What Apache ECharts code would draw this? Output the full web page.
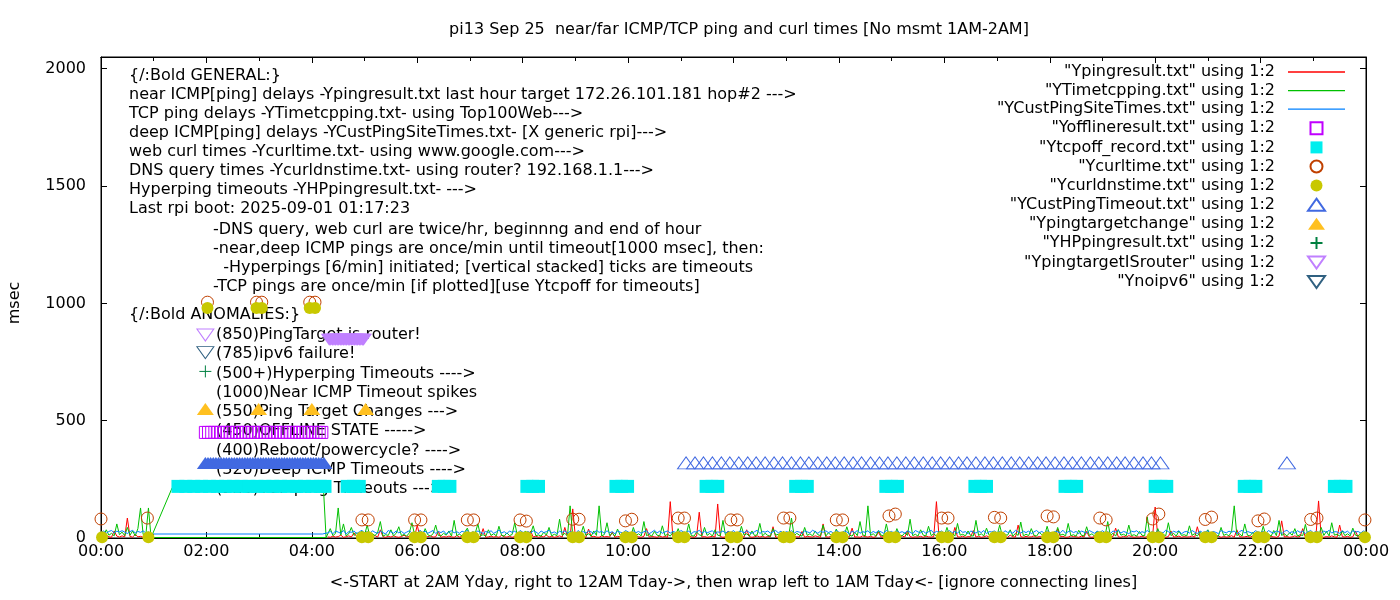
<!DOCTYPE html>
<html><head><meta charset="utf-8">
<script src="https://cdn.jsdelivr.net/npm/echarts@6/dist/echarts.min.js"></script>
<style>html,body{margin:0;padding:0;background:#fff}#c{width:1400px;height:600px}</style>
</head><body><div id="c"></div>
<script>
const FONT = 'DejaVu Sans';
const titleText = 'pi13 Sep 25  near/far ICMP/TCP ping and curl times [No msmt 1AM-2AM]';
const xAxisTitle = '<-START at 2AM Yday, right to 12AM Tday->, then wrap left to 1AM Tday<- [ignore connecting lines]';
const yAxisTitle = 'msec';

const seriesNames = [
  '"Ypingresult.txt" using 1:2', '"YTimetcpping.txt" using 1:2', '"YCustPingSiteTimes.txt" using 1:2',
  '"Yofflineresult.txt" using 1:2', '"Ytcpoff_record.txt" using 1:2', '"Ycurltime.txt" using 1:2',
  '"Ycurldnstime.txt" using 1:2', '"YCustPingTimeout.txt" using 1:2', '"Ypingtargetchange" using 1:2',
  '"YHPpingresult.txt" using 1:2', '"YpingtargetISrouter" using 1:2', '"Ynoipv6" using 1:2'
];

const generalLines = [
  '{/:Bold GENERAL:}',
  'near ICMP[ping] delays -Ypingresult.txt last hour target 172.26.101.181 hop#2 --->',
  'TCP ping delays -YTimetcpping.txt- using Top100Web--->',
  'deep ICMP[ping] delays -YCustPingSiteTimes.txt- [X generic rpi]--->',
  'web curl times -Ycurltime.txt- using www.google.com--->',
  'DNS query times -Ycurldnstime.txt- using router? 192.168.1.1--->',
  'Hyperping timeouts -YHPpingresult.txt- --->',
  'Last rpi boot: 2025-09-01 01:17:23'
];
const noteLines = [
  '-DNS query, web curl are twice/hr, beginnng and end of hour',
  '-near,deep ICMP pings are once/min until timeout[1000 msec], then:',
  '  -Hyperpings [6/min] initiated; [vertical stacked] ticks are timeouts',
  '-TCP pings are once/min [if plotted][use Ytcpoff for timeouts]'
];
const anomalyHeader = '{/:Bold ANOMALIES:}';
const anomalyLines = [
  '(850)PingTarget is router!', '(785)ipv6 failure!', '(500+)Hyperping Timeouts ---->',
  '(1000)Near ICMP Timeout spikes', '(550)Ping Target Changes --->', '(450)OFFLINE STATE ----->',
  '(400)Reboot/powercycle? ---->', '(320)Deep ICMP Timeouts ---->', '(220)TCP ping Timeouts --->'
];

// sampling grid (hours) for the per-minute line files, shown here every 3 min
const SAMPLE_STEP = 0.05;
const EARLY_START = 0.0;   // 00:00 .. 00:54
const LATE_START = 4.3;    // 04:18 .. 24:00

// Ypingresult (near ICMP) msec
const redEarly = [6, 4, 12, 5, 3, 30, 8, 4, 9, 5, 85, 6, 4, 15, 5, 7, 3, 8, 4];
const redLate = [
  5, 3, 8, 4, 6, 12, 3, 5, 9, 4, 22, 6, 3, 7,
  4, 8, 3, 6, 10, 4, 35, 5, 3, 7, 4, 9, 5, 3, 6, 12, 4, 8, 3, 5,
  55, 4, 7, 3, 6, 9, 4, 5, 28, 3, 6, 4, 8, 5, 3, 10, 4, 6, 3, 7,
  5, 3, 9, 4, 6, 40, 3, 5, 8, 4, 6, 3, 11, 5, 4, 7, 3, 6, 9, 4,
  6, 3, 5, 30, 4, 8, 3, 6, 5, 12, 4, 7, 3, 5, 9, 4, 45, 6, 3, 124,
  5, 8, 4, 6, 3, 38, 5, 7, 4, 3, 9, 5, 6, 4, 25, 3, 7, 5, 4, 8,
  3, 6, 4, 9, 5, 3, 7, 40, 4, 6, 5, 3, 8, 4, 6, 3, 155, 5, 4, 7,
  3, 6, 4, 9, 5, 3, 8, 110, 4, 6, 3, 5, 7, 4, 145, 6, 3, 5, 30, 4,
  6, 3, 8, 5, 4, 35, 6, 3, 5, 9, 4, 7, 3, 6, 5, 48, 4, 3, 7, 5,
  4, 8, 3, 6, 5, 4, 28, 3, 7, 5, 4, 9, 6, 3, 60, 5, 4, 7, 3, 6,
  5, 4, 8, 3, 6, 42, 4, 5, 3, 9, 6, 4, 7, 3, 5, 25, 4, 6, 3, 8,
  4, 6, 3, 5, 9, 4, 30, 6, 3, 5, 4, 7, 3, 8, 5, 4, 6, 155, 3, 5,
  7, 4, 6, 3, 45, 5, 4, 8, 3, 6, 5, 32, 4, 7, 3, 5, 9, 4, 6, 3,
  5, 8, 4, 6, 3, 12, 5, 4, 55, 6, 3, 7, 4, 5, 9, 3, 6, 4, 8, 5,
  3, 6, 4, 38, 5, 7, 3, 4, 9, 6, 5, 3, 8, 4, 28, 5, 3, 6, 4, 7,
  5, 3, 8, 4, 6, 42, 5, 3, 7, 4, 10, 6, 3, 5, 4, 8, 3, 6, 5, 4,
  132, 5, 4, 7, 3, 6, 30, 4, 5, 8, 3, 6, 4, 5, 9, 3, 48, 5, 4, 6,
  3, 7, 5, 4, 8, 3, 6, 4, 5, 10, 3, 35, 6, 4, 5, 7, 3, 9, 4, 6,
  5, 3, 12, 4, 6, 5, 3, 8, 73, 4, 6, 3, 5, 9, 4, 7, 40, 3, 5, 6,
  4, 8, 158, 5, 3, 6, 4, 9, 5, 3, 55, 6, 4, 7, 3, 5, 30, 4, 6, 3,
  7
];
// YTimetcpping (TCP ping) msec
const greenEarly = [15, 10, 35, 12, 20, 9, 60, 14, 25, 10, 45, 12, 30, 9, 40, 128, 15, 11, 128];
const greenGapTimes = [0.95, 1.35, 4.22, 4.27];
const greenGapValues = [2, 214, 214, 2];
const greenBaseTimes = [0.95, 4.27];
const greenBaseValues = [2, 2];
const greenLate = [
  8, 40, 10, 20, 128, 12, 60, 9, 18, 45, 11, 22, 8, 30,
  12, 55, 9, 18, 10, 25, 70, 8, 14, 11, 35, 9, 20, 48, 10, 15, 8, 22, 65, 12,
  10, 28, 9, 40, 14, 8, 18, 55, 11, 9, 20, 12, 30, 8, 75, 10, 16, 9, 25, 42,
  12, 9, 20, 60, 10, 14, 8, 35, 11, 18, 9, 50, 12, 8, 22, 10, 15, 65, 9, 14,
  11, 30, 9, 18, 52, 10, 13, 8, 25, 12, 45, 9, 16, 10, 80, 11, 20, 8, 137, 12,
  9, 22, 14, 50, 10, 18, 8, 30, 11, 137, 9, 15, 65, 10, 20, 8, 38, 12, 9, 25,
  14, 8, 45, 11, 18, 9, 70, 10, 15, 8, 28, 12, 9, 52, 10, 16, 8, 24, 11, 40,
  9, 18, 12, 60, 10, 8, 25, 14, 9, 45, 11, 20, 8, 35, 12, 9, 75, 10, 16, 8,
  22, 11, 9, 50, 12, 18, 8, 30, 10, 14, 62, 9, 20, 11, 8, 40, 12, 16, 9, 28,
  10, 14, 85, 9, 20, 12, 8, 45, 11, 18, 9, 30, 14, 10, 55, 8, 22, 12, 9, 38,
  11, 16, 9, 48, 12, 8, 25, 10, 70, 14, 9, 137, 11, 18, 8, 32, 12, 9, 60, 10,
  15, 8, 40, 12, 9, 22, 11, 80, 10, 16, 8, 35, 12, 9, 50, 10, 18, 8, 28, 14,
  9, 45, 11, 20, 8, 62, 12, 16, 9, 30, 10, 8, 75, 11, 18, 9, 42, 12, 8, 24,
  10, 55, 9, 14, 12, 35, 8, 20, 11, 68, 9, 16, 10, 40, 12, 8, 25, 14, 9, 50,
  11, 20, 8, 45, 12, 16, 9, 62, 10, 14, 8, 33, 12, 9, 48, 11, 18, 8, 28, 10,
  14, 9, 70, 11, 20, 8, 36, 12, 16, 9, 55, 10, 14, 8, 28, 12, 9, 90, 11, 18,
  8, 40, 12, 16, 9, 65, 10, 20, 8, 30, 11, 14, 9, 52, 12, 18, 8, 25, 10, 14,
  35, 9, 20, 12, 8, 45, 11, 16, 9, 28, 137, 10, 18, 8, 60, 12, 9, 24, 11, 14,
  9, 50, 12, 16, 8, 32, 10, 75, 11, 18, 9, 22, 12, 40, 8, 14, 10, 58, 9, 16,
  12, 20, 8, 45, 11, 28, 9, 65, 12, 16, 8, 30, 10, 18, 9, 42, 12, 8, 22, 14,
  10
];
// YCustPingSiteTimes (deep ICMP) msec
const blueEarly = [24, 30, 20, 28, 32, 22, 29, 26, 31, 25, 19, 27, 33, 21, 28, 24, 30, 22, 26];
const blueGapTimes = [0.95, 4.2];
const blueGapValues = [17, 17];
const blueLate = [
  22, 28, 18, 30, 25, 20, 32, 17, 27, 24, 30, 19, 26, 33,
  21, 28, 18, 31, 24, 20, 29, 23, 17, 32, 26, 20, 30, 22, 28, 19, 25, 31, 21, 27,
  18, 33, 24, 29, 20, 26, 32, 19, 28, 23, 30, 17, 26, 31, 22, 27, 20, 29, 24, 33,
  18, 27, 22, 30, 25, 19, 28, 23, 31, 20, 26, 34, 21, 27, 18, 30, 24, 29, 19, 32,
  25, 22, 28, 20, 31, 26, 18, 30, 23, 27, 33, 21, 26, 19, 29, 24, 31, 20, 28, 25,
  17, 32, 23, 27, 21, 30, 26, 19, 33, 24, 28, 20, 31, 22, 27, 18, 29, 25, 21, 32,
  26, 19, 30, 23, 28, 20, 27, 31, 18, 25, 33, 22, 29, 20, 26, 30, 21, 28, 24, 19,
  32, 26, 23, 30, 18, 27, 25, 33, 20, 29, 22, 27, 31, 19, 26, 24, 30, 21, 28, 23,
  32, 18, 26, 29, 22, 31, 24, 20, 27, 33, 19, 28, 25, 30, 21, 26, 32, 22, 29, 18,
  27, 24, 31, 20, 28, 25, 19, 30, 26, 22, 33, 27, 20, 29, 24, 31, 23, 28, 19, 32,
  25, 21, 30, 26, 18, 29, 23, 32, 20, 27, 24, 31, 19, 28, 22, 30, 26, 20, 33, 24,
  28, 19, 31, 23, 27, 21, 30, 25, 18, 32, 26, 22, 29, 20, 27, 33, 21, 28, 24, 30,
  19, 26, 31, 22, 28, 20, 33, 24, 27, 18, 30, 25, 21, 29, 23, 32, 19, 27, 26, 30,
  22, 28, 19, 31, 24, 27, 20, 33, 25, 21, 29, 23, 30, 18, 26, 32, 22, 28, 20, 31,
  24, 19, 29, 26, 22, 33, 20, 27, 31, 23, 28, 18, 30, 25, 21, 32, 26, 20, 29, 24,
  31, 22, 27, 19, 30, 25, 33, 21, 28, 24, 18, 29, 26, 31, 20, 27, 23, 32, 22, 28,
  19, 30, 25, 22, 33, 27, 20, 29, 24, 31, 18, 26, 28, 21, 32, 25, 19, 30, 23, 27,
  31, 20, 28, 24, 19, 32, 26, 22, 29, 25, 30, 18, 27, 33, 21, 28, 24, 20, 31, 26,
  23, 29, 19, 32, 25, 21, 30, 26, 18, 28, 33, 22, 27, 20, 31, 24, 29, 19, 26, 32,
  22, 28, 25, 19, 30, 24, 33, 21, 27, 26, 20, 31, 23, 29, 18, 32, 25, 28, 21, 30,
  26
];

// Yofflineresult (450)
const offlineTimes = [1.98, 2.04, 2.10, 2.16, 2.22, 2.28, 2.34, 2.40, 2.46, 2.52, 2.58, 2.64, 2.70, 2.76, 2.82, 2.88, 2.94, 3.00, 3.06, 3.12, 3.18, 3.24, 3.30, 3.36, 3.42, 3.48, 3.54, 3.60, 3.66, 3.72, 3.78, 3.84, 3.90, 3.96, 4.02, 4.08, 4.14, 4.19];
const offlineValue = 450;
// Ytcpoff_record (220)
const tcpoffTimes = [
  1.46, 1.61, 1.76, 1.91, 2.06, 2.21, 2.36, 2.51, 2.66, 2.81, 2.96, 3.11, 3.26, 3.41, 3.56, 3.71, 3.86, 4.01, 4.16, 4.25,
  4.67, 4.79, 4.90, 6.40, 6.51, 6.62, 8.08, 8.19, 8.30, 9.77, 9.88, 9.99, 11.48, 11.59, 11.70,
  13.18, 13.29, 13.40, 14.89, 15.00, 15.11, 16.58, 16.69, 16.80, 18.29, 18.40, 18.51,
  20.00, 20.11, 20.22, 21.69, 21.80, 21.91, 23.40, 23.51, 23.62
];
const tcpoffValue = 220;
// Ycurltime
const curlTimes = [0.00, 0.88, 2.02, 2.95, 3.05, 3.96, 4.06, 4.95, 5.07, 5.95, 6.07, 6.95, 7.07, 7.95, 8.07, 8.95, 9.07, 9.95, 10.07, 10.95, 11.07, 11.95, 12.07, 12.95, 13.07, 13.95, 14.07, 14.95, 15.07, 15.95, 16.07, 16.95, 17.07, 17.95, 18.07, 18.95, 19.07, 19.95, 20.07, 20.95, 21.07, 21.95, 22.07, 22.95, 23.07, 23.98];
const curlValues = [81, 85, 1005, 1005, 1005, 1005, 1005, 77, 77, 77, 77, 77, 77, 77, 72, 80, 80, 73, 80, 85, 85, 77, 77, 85, 85, 77, 77, 94, 102, 85, 85, 88, 85, 94, 90, 85, 77, 81, 102, 79, 89, 73, 81, 79, 85, 77];
// Ycurldnstime
const dnsTimes = [0.02, 0.90, 2.02, 2.95, 3.05, 3.96, 4.06, 4.95, 5.07, 5.95, 6.07, 6.95, 7.07, 7.95, 8.07, 8.95, 9.07, 9.95, 10.07, 10.95, 11.07, 11.95, 12.07, 12.95, 13.07, 13.95, 14.07, 14.95, 15.07, 15.95, 16.07, 16.95, 17.07, 17.95, 18.07, 18.95, 19.07, 19.95, 20.07, 20.95, 21.07, 21.95, 22.07, 22.95, 23.07, 23.98];
const dnsValues = [3, 3, 980, 980, 980, 980, 980, 3, 3, 3, 3, 3, 3, 3, 3, 3, 3, 3, 3, 3, 3, 3, 3, 3, 3, 3, 3, 3, 3, 3, 3, 3, 3, 3, 3, 3, 3, 3, 3, 3, 3, 3, 3, 3, 3, 3];
// YCustPingTimeout (320)
const custTimeoutTimes = [
  11.10, 11.27, 11.43, 11.60, 11.77, 11.93, 12.10, 12.27, 12.43, 12.60, 12.77, 12.93,
  13.10, 13.27, 13.43, 13.60, 13.77, 13.93, 14.10, 14.27, 14.43, 14.60, 14.77, 14.93,
  15.10, 15.27, 15.43, 15.60, 15.77, 15.93, 16.10, 16.27, 16.43, 16.60, 16.77, 16.93,
  17.10, 17.27, 17.43, 17.60, 17.77, 17.93, 18.10, 18.27, 18.43, 18.60, 18.77, 18.93,
  19.10, 19.27, 19.43, 19.60, 19.77, 19.93, 20.10, 22.50
];
const custTimeoutDenseTimes = [1.98, 2.03, 2.08, 2.13, 2.18, 2.23, 2.28, 2.33, 2.38, 2.43, 2.48, 2.53, 2.58, 2.63, 2.68, 2.73, 2.78, 2.83, 2.88, 2.93, 2.98, 3.03, 3.08, 3.13, 3.18, 3.23, 3.28, 3.33, 3.38, 3.43, 3.48, 3.53, 3.58, 3.63, 3.68, 3.73, 3.78, 3.83, 3.88, 3.93, 3.98, 4.03, 4.08, 4.13, 4.18, 4.23];
const custTimeoutValue = 320;
// Ypingtargetchange (550)
const targetChangeTimes = [1.98, 2.99, 4.00, 5.02];
const targetChangeValue = 550;
// YHPpingresult
const hpTimes = [1.98];
const hpValues = [710];
// YpingtargetISrouter
const routerTimes = [1.98];
const routerValues = [865];
const routerDenseTimes = [4.33, 4.36, 4.39, 4.42, 4.45, 4.48, 4.51, 4.54, 4.57, 4.60, 4.63, 4.66, 4.69, 4.72, 4.75, 4.78, 4.81, 4.84, 4.87, 4.90, 4.93, 4.96, 4.98];
const routerDenseValue = 845;
// Ynoipv6
const noipv6Times = [1.98];
const noipv6Values = [790];

// ---------- build ----------
const C = {
  red: '#ff0000', green: '#00c000', blue: '#0080ff', magenta: '#c000ff', cyan: '#00eeee',
  brown: '#c04000', olive: '#c8c800', royal: '#4169e1', gold: '#ffc020', dgreen: '#008040',
  lpurple: '#c080ff', slate: '#306080'
};
const pts = (times, values) => times.map((t, i) => [t, Array.isArray(values) ? values[i] : values]);
const sampled = (start, values) => values.map((v, i) => [Math.round((start + i * SAMPLE_STEP) * 1000) / 1000, v]);
const BREAK = (t) => [t, '-'];
const UP = 'path://M8.5,0L17,12L0,12Z';
const DOWN = 'path://M0,0L17,0L8.5,12Z';
const PLUS = 'path://M5,0L5,10M0,5L10,5';
const SQUARE = 'path://M0,0L10,0L10,10L0,10Z';
const LINE_ICON = 'path://M0,0L57,0L57,1.3L0,1.3Z';

function lineSeries(name, color, data) {
  return { name, type: 'line', z: 1, data, symbol: 'none', showSymbol: false, connectNulls: false,
    lineStyle: { color, width: 1, opacity: 1 }, itemStyle: { color }, animation: false, silent: true };
}
function scatter(name, symbol, size, color, open, data) {
  return { name, type: 'scatter', z: 3, data, symbol, symbolSize: size, animation: false, silent: true,
    itemStyle: open ? { color: 'none', borderColor: color, borderWidth: 1, opacity: 1 } : { color, opacity: 1 } };
}

const series = [
  lineSeries(seriesNames[0], C.red, [...sampled(EARLY_START, redEarly), BREAK(2), ...sampled(LATE_START, redLate)]),
  lineSeries(seriesNames[1], C.green, [...sampled(EARLY_START, greenEarly), ...pts(greenGapTimes, greenGapValues),
    ...sampled(LATE_START, greenLate), BREAK(3), ...pts(greenBaseTimes, greenBaseValues)]),
  lineSeries(seriesNames[2], C.blue, [...sampled(EARLY_START, blueEarly), ...pts(blueGapTimes, blueGapValues), ...sampled(LATE_START, blueLate)]),
  scatter(seriesNames[3], 'rect', 12, C.magenta, true, pts(offlineTimes, offlineValue)),
  scatter(seriesNames[4], 'rect', 13, C.cyan, false, pts(tcpoffTimes, tcpoffValue)),
  scatter(seriesNames[5], 'circle', 12, C.brown, true, pts(curlTimes, curlValues)),
  scatter(seriesNames[6], 'circle', 12, C.olive, false, pts(dnsTimes, dnsValues)),
  scatter(seriesNames[7], 'triangle', [17, 12], C.royal, true, pts(custTimeoutTimes, custTimeoutValue)),
  scatter(seriesNames[7], 'triangle', [17, 12], C.royal, false, pts(custTimeoutDenseTimes, custTimeoutValue)),
  scatter(seriesNames[8], 'triangle', [17, 12], C.gold, false, pts(targetChangeTimes, targetChangeValue)),
  scatter(seriesNames[9], PLUS, 12, C.dgreen, true, pts(hpTimes, hpValues)),
  scatter(seriesNames[10], DOWN, [17, 12], C.lpurple, true, pts(routerTimes, routerValues)),
  scatter(seriesNames[10], DOWN, [17, 12], C.lpurple, false, pts(routerDenseTimes, routerDenseValue)),
  scatter(seriesNames[11], DOWN, [17, 12], C.slate, true, pts(noipv6Times, noipv6Values))
];
const legendIcons = [LINE_ICON, LINE_ICON, LINE_ICON, SQUARE, SQUARE, 'circle', 'circle', UP, UP, PLUS, DOWN, DOWN];
const lineIconColors = [C.red, C.green, C.blue];

const txt = (text, x, y) => ({ type: 'text', x, y, silent: true, z: 0,
  style: { text, font: '16px "' + FONT + '"', fill: '#000', verticalAlign: 'middle', align: 'left' } });
const graphics = [];
generalLines.forEach((s, i) => graphics.push(txt(s, 129, 76 + i * 19)));
noteLines.forEach((s, i) => graphics.push(txt(s, 213, 230 + i * 19)));
graphics.push(txt(anomalyHeader, 129, 315));
anomalyLines.forEach((s, i) => graphics.push(txt(s, 216, 335 + i * 19.25)));
graphics.push({ type: 'text', x: 15, y: 303, rotation: Math.PI / 2, silent: true,
  style: { text: yAxisTitle, font: '16px "' + FONT + '"', fill: '#000', align: 'center', verticalAlign: 'middle' } });

const hourLabel = (h) => { const v = Math.round(h) % 24; return (v < 10 ? '0' : '') + v + ':00'; };
const tickStyle = { color: '#000', width: 1 };
function xAx(pos, interval, len, labels) {
  return { type: 'value', min: 0, max: 24, interval, position: pos, splitLine: { show: false },
    axisLine: { show: true, onZero: false, lineStyle: tickStyle },
    axisTick: { show: true, inside: true, length: len, lineStyle: tickStyle },
    axisLabel: labels ? { show: true, formatter: hourLabel, color: '#000', fontFamily: FONT, fontSize: 16, margin: 6 } : { show: false },
    name: labels ? xAxisTitle : '', nameLocation: 'middle', nameGap: 37,
    nameTextStyle: { color: '#000', fontFamily: FONT, fontSize: 16 } };
}
function yAx(pos, labels) {
  return { type: 'value', min: 0, max: 2050, interval: 500, position: pos, splitLine: { show: false },
    axisLine: { show: true, onZero: false, lineStyle: tickStyle },
    axisTick: { show: true, inside: true, length: 6, lineStyle: tickStyle },
    axisLabel: labels ? { show: true, showMaxLabel: false, formatter: (v) => String(v), color: '#000', fontFamily: FONT, fontSize: 16, margin: 15 } : { show: false } };
}

const chart = echarts.init(document.getElementById('c'), null, { renderer: 'canvas' });
chart.setOption({
  animation: false,
  backgroundColor: '#fff',
  title: { text: titleText, left: 734, top: 17, textAlign: 'center',
    textStyle: { fontFamily: FONT, fontSize: 16, fontWeight: 'normal', color: '#000' } },
  grid: { left: 101, right: 34, top: 57, bottom: 62, show: true, borderColor: '#000', borderWidth: 1 },
  legend: { orient: 'vertical', right: 55, top: 64, align: 'right', itemWidth: 57, itemHeight: 12, itemGap: 2.6,
    padding: 0, selectedMode: false, symbolKeepAspect: true,
    itemStyle: { opacity: 1 },
    data: seriesNames.map((name, i) => i < 3
      ? { name, icon: legendIcons[i], itemStyle: { color: lineIconColors[i], borderWidth: 0, opacity: 1 } }
      : { name, icon: legendIcons[i] }),
    textStyle: { fontFamily: FONT, fontSize: 16, color: '#000', padding: [0, 8, 0, 0] } },
  xAxis: [xAx('bottom', 2, 6, true), xAx('bottom', 1, 4, false), xAx('top', 2, 6, false), xAx('top', 1, 4, false)],
  yAxis: [yAx('left', true), yAx('right', false)],
  graphic: graphics,
  series
});
</script></body></html>
